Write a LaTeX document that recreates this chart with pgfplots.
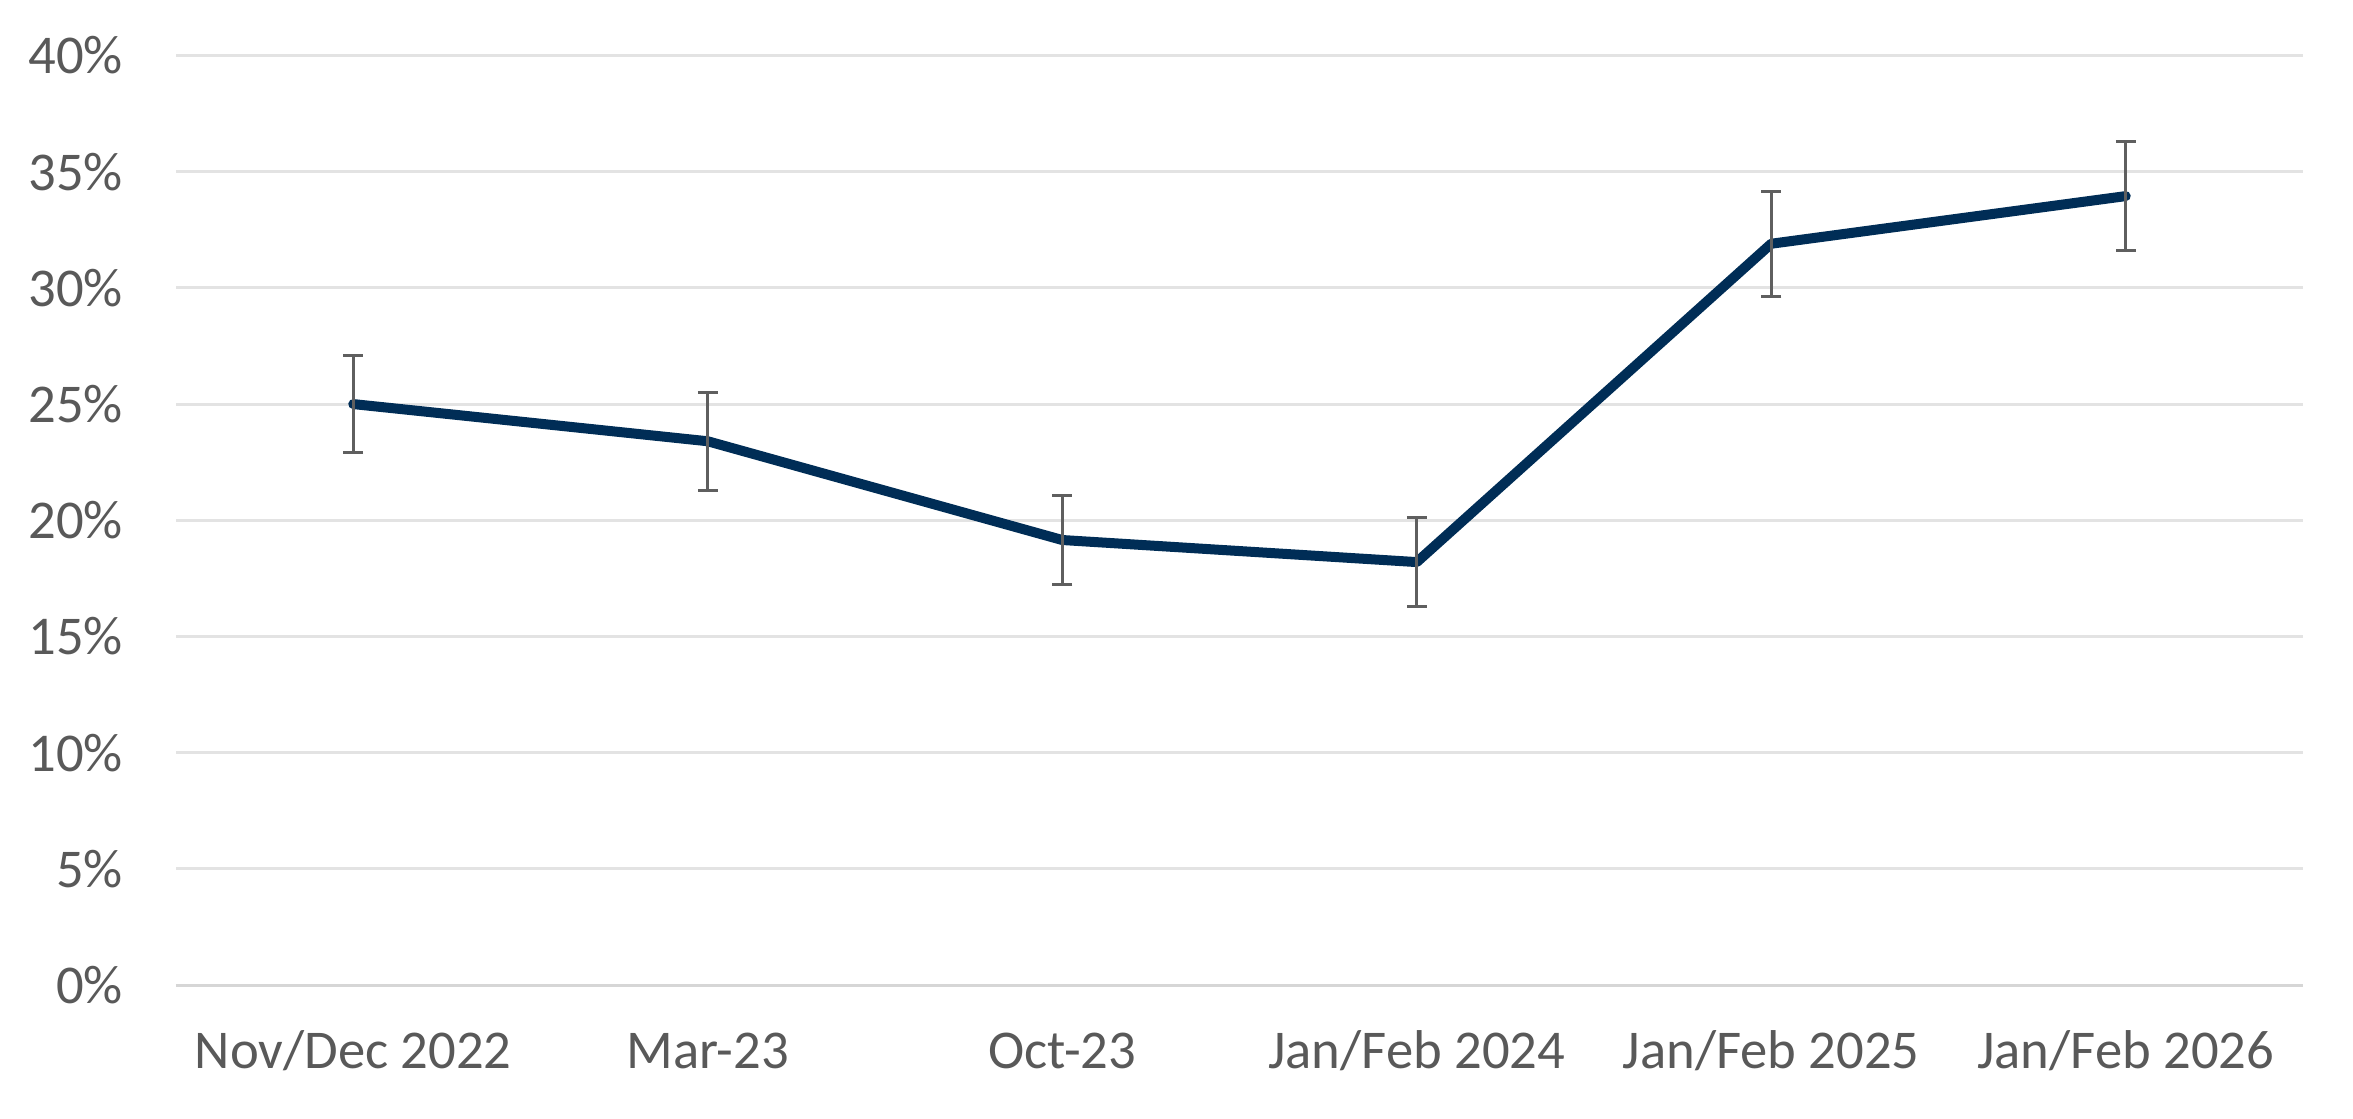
\documentclass[border=0pt]{standalone}
\usepackage{pgfplots}
\pgfplotsset{compat=1.18}
\usepackage{fontspec}
\setmainfont{Carlito}
\definecolor{navy}{HTML}{002D56}
\definecolor{txt}{HTML}{595959}
\definecolor{grd}{HTML}{E3E3E3}
\definecolor{zer}{HTML}{D6D6D6}
\definecolor{ebar}{HTML}{5F5F5F}
\pgfplotstableread{
x y ep em
0 25.0 2.1 2.1
1 23.4 2.1 2.1
2 19.15 1.93 1.93
3 18.2 1.9 1.9
4 31.9 2.25 2.25
5 33.95 2.33 2.33
}\datatab
\begin{document}
\begin{tikzpicture}
\path[use as bounding box] (-52.8pt,-39.9pt) rectangle (653.1pt,295.5pt);
\begin{axis}[
  at={(0pt,0pt)}, anchor=south west,
  scale only axis, width=638.1pt, height=278.85pt,
  xmin=-0.5, xmax=5.5, ymin=0, ymax=40,
  xtick={0,...,5},
  xticklabels={Nov/Dec 2022, Mar-23, Oct-23, Jan/Feb 2024, Jan/Feb 2025, Jan/Feb 2026},
  ytick={0,5,...,40},
  yticklabel={\pgfmathprintnumber{\tick}\%},
  /pgf/number format/assume math mode=true,
  axis line style={draw=none},
  major tick length=0pt,
  ymajorgrids,
  grid style={grd, line width=0.9pt},
  extra y ticks={0},
  extra y tick labels={},
  extra y tick style={grid style={zer, line width=0.9pt}},
  ticklabel style={font=\fontsize{16.4}{19.7}\selectfont, text=txt},
  yticklabel style={anchor=east, inner sep=0pt, xshift=-15.7pt},
  xticklabel style={anchor=base, inner sep=0pt, yshift=-25pt},
  clip=false,
]
\addplot[navy, line width=3pt, line cap=round, line join=round,
  error bars/.cd, y dir=both, y explicit,
  error bar style={ebar, line width=0.9pt, line cap=butt},
  error mark options={ebar, line width=0.9pt, mark size=3pt, rotate=90}]
  table[x=x, y=y, y error plus=ep, y error minus=em] {\datatab};
\end{axis}
\end{tikzpicture}
\end{document}
